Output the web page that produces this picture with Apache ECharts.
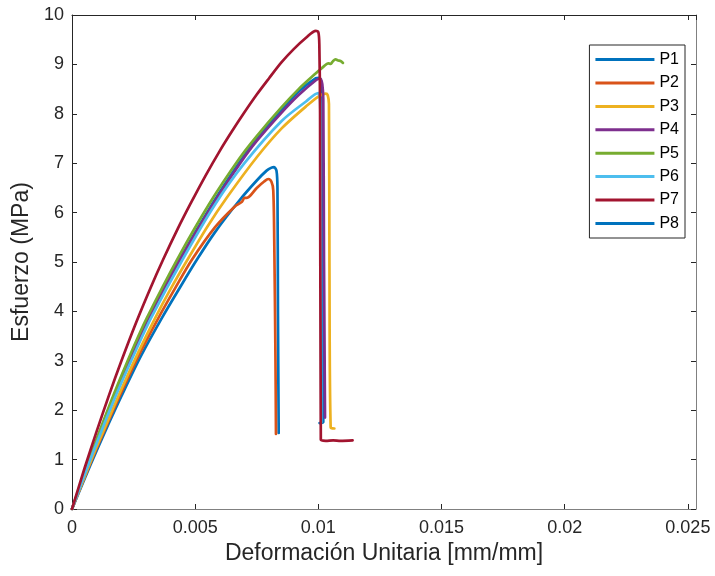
<!DOCTYPE html>
<html>
<head>
<meta charset="utf-8">
<script src="https://cdn.jsdelivr.net/npm/echarts@6/dist/echarts.min.js"></script>
<style>
  html, body { margin: 0; padding: 0; background: #fff; }
  #chart { width: 715px; height: 576px; }
</style>
</head>
<body>
<div id="chart"></div>
<script>
// Stress–strain curves of eight specimens: [strain (mm/mm), stress (MPa)]
const P1 = [[0,0],[0.0005,0.6],[0.001,1.18],[0.0015,1.74],[0.002,2.28],[0.0028,3.1],[0.00364,3.86],[0.0044,4.5],[0.00506,5.04],[0.0058,5.6],[0.0068,6.25],[0.0075,6.65],[0.0079,6.85],[0.0081,6.91],[0.0082,6.92],[0.0083,6.85],[0.00834,6.5],[0.00836,4.0],[0.00839,1.54]];
const P2 = [[0,0],[0.0005,0.63],[0.001,1.23],[0.0015,1.8],[0.002,2.36],[0.0027,3.1],[0.0035,3.86],[0.0042,4.48],[0.00486,5.04],[0.0058,5.7],[0.0066,6.12],[0.0069,6.22],[0.007,6.3],[0.0071,6.3],[0.0075,6.5],[0.0078,6.63],[0.00797,6.68],[0.0081,6.62],[0.00817,6.45],[0.00821,5.44],[0.00826,3.0],[0.00828,1.52]];
const P3 = [[0,0],[0.0005,0.64],[0.001,1.26],[0.0015,1.84],[0.002,2.42],[0.0027,3.18],[0.00337,3.86],[0.004,4.45],[0.00468,5.04],[0.0055,5.72],[0.00628,6.3],[0.0075,7.12],[0.0085,7.7],[0.0095,8.15],[0.01,8.35],[0.0103,8.41],[0.01038,8.38],[0.01043,8.2],[0.01045,5.0],[0.0105,1.65],[0.01065,1.63]];
const P4 = [[0,0],[0.0005,0.7],[0.001,1.37],[0.0015,2.01],[0.002,2.62],[0.0025,3.2],[0.0031,3.86],[0.0044,5.06],[0.0057,6.15],[0.0068,6.98],[0.0075,7.45],[0.0085,8.02],[0.0092,8.38],[0.0099,8.68],[0.01005,8.71],[0.0101,8.7],[0.01016,8.6],[0.0102,8.3],[0.01023,5.0],[0.01027,1.85]];
const P5 = [[0,0],[0.0005,0.72],[0.001,1.41],[0.0015,2.07],[0.002,2.69],[0.0025,3.28],[0.00303,3.86],[0.0043,5.08],[0.0056,6.2],[0.0068,7.1],[0.0075,7.55],[0.0085,8.13],[0.0092,8.5],[0.0099,8.82],[0.0102,8.95],[0.0104,9.02],[0.0105,9.01],[0.0106,9.07],[0.0107,9.1],[0.0108,9.08],[0.0109,9.07],[0.011,9.03]];
const P6 = [[0,0],[0.0005,0.68],[0.001,1.33],[0.0015,1.96],[0.002,2.55],[0.0026,3.22],[0.0032,3.86],[0.0045,5.06],[0.0058,6.16],[0.007,7.0],[0.0085,7.85],[0.0095,8.25],[0.01,8.42],[0.01005,8.4],[0.01008,8.1],[0.0101,5.0],[0.01012,1.75]];
const P7 = [[0,0],[0.0005,0.81],[0.001,1.57],[0.0015,2.3],[0.002,2.99],[0.0026,3.77],[0.0032,4.49],[0.0037,5.05],[0.0043,5.68],[0.0048,6.17],[0.0054,6.73],[0.006,7.25],[0.0065,7.65],[0.007,8.03],[0.0075,8.39],[0.008,8.72],[0.0085,9.04],[0.009,9.31],[0.0095,9.54],[0.0099,9.68],[0.01,9.65],[0.01004,9.4],[0.01007,8.0],[0.0101,1.4],[0.0103,1.38],[0.0106,1.39],[0.0109,1.38],[0.01139,1.39]];
const P8 = [[0,0],[0.0005,0.71],[0.001,1.39],[0.0015,2.04],[0.002,2.65],[0.0025,3.24],[0.0031,3.88],[0.0044,5.08],[0.0057,6.18],[0.0068,7.02],[0.0075,7.49],[0.0085,8.07],[0.0092,8.45],[0.0099,8.72],[0.01003,8.73],[0.0101,8.68],[0.01015,8.4],[0.01018,5.0],[0.0102,1.76],[0.01005,1.74]];

const seriesNames = ['P1','P2','P3','P4','P5','P6','P7','P8'];
const seriesData = [P1, P2, P3, P4, P5, P6, P7, P8];
const seriesColors = ['#0072BD','#D95319','#EDB120','#7E2F8E','#77AC30','#4DBEEE','#A2142F','#0072BD'];
// P8 sits underneath the others where the curves overlap
const seriesZ = [2, 2, 2, 2, 2, 2, 2, 1];

const xTicks = [0, 0.005, 0.01, 0.015, 0.02, 0.025];

const FONT = "'Liberation Sans', Arial, Helvetica, sans-serif";
const DARK = '#262626';
const GREY = '#808080';
const X_MAX = 0.02533;

function xLabel(v) {
  const hit = xTicks.find(t => Math.abs(t - v) < 1e-9);
  return hit === undefined ? '' : String(hit);
}

const chart = echarts.init(document.getElementById('chart'), null, { renderer: 'canvas' });

chart.setOption({
  animation: false,
  backgroundColor: '#ffffff',
  grid: { left: 72, right: 19, top: 15, bottom: 67, containLabel: false },
  legend: {
    orient: 'vertical',
    right: 30,
    top: 45,
    data: seriesNames,
    icon: 'rect',
    itemWidth: 59,
    itemHeight: 3,
    itemGap: 7.4,
    padding: [6.6, 6, 6.6, 6],
    borderColor: DARK,
    borderWidth: 1,
    backgroundColor: '#ffffff',
    textStyle: { fontFamily: FONT, fontSize: 16, color: '#000', lineHeight: 16, padding: [0,0,0,0] }
  },
  xAxis: [
    {
      type: 'value', min: 0, max: X_MAX, interval: 0.005,
      name: 'Deformación Unitaria [mm/mm]', nameLocation: 'middle', nameGap: 32,
      nameTextStyle: { fontFamily: FONT, fontSize: 23, color: DARK },
      axisLine: { show: true, onZero: false, lineStyle: { color: GREY, width: 1 } },
      axisTick: { show: true, inside: true, length: 5, lineStyle: { color: DARK } },
      axisLabel: { fontFamily: FONT, fontSize: 18, color: DARK, margin: 10, formatter: xLabel, showMaxLabel: false },
      splitLine: { show: false }
    },
    {
      type: 'value', min: 0, max: X_MAX, interval: 0.005, position: 'top',
      axisLine: { show: true, onZero: false, lineStyle: { color: DARK, width: 1 } },
      axisTick: { show: true, inside: true, length: 5, lineStyle: { color: DARK } },
      axisLabel: { show: false },
      splitLine: { show: false }
    }
  ],
  yAxis: [
    {
      type: 'value', min: 0, max: 10, interval: 1,
      name: 'Esfuerzo (MPa)', nameLocation: 'middle', nameGap: 30,
      nameTextStyle: { fontFamily: FONT, fontSize: 23, color: DARK },
      axisLine: { show: true, onZero: false, lineStyle: { color: DARK, width: 1 } },
      axisTick: { show: true, inside: true, length: 5, lineStyle: { color: DARK } },
      axisLabel: { fontFamily: FONT, fontSize: 18, color: DARK, margin: 8 },
      splitLine: { show: false }
    },
    {
      type: 'value', min: 0, max: 10, interval: 1, position: 'right',
      axisLine: { show: true, onZero: false, lineStyle: { color: GREY, width: 1 } },
      axisTick: { show: true, inside: true, length: 5, lineStyle: { color: DARK } },
      axisLabel: { show: false },
      splitLine: { show: false }
    }
  ],
  series: seriesNames.map((name, i) => ({
    name: name,
    type: 'line',
    xAxisIndex: 0,
    yAxisIndex: 0,
    z: seriesZ[i],
    data: seriesData[i],
    showSymbol: false,
    symbol: 'none',
    smooth: 0.3,
    color: seriesColors[i],
    itemStyle: { color: seriesColors[i] },
    lineStyle: { color: seriesColors[i], width: 2.7, join: 'round', cap: 'round' },
    clip: true
  }))
});
</script>
</body>
</html>
